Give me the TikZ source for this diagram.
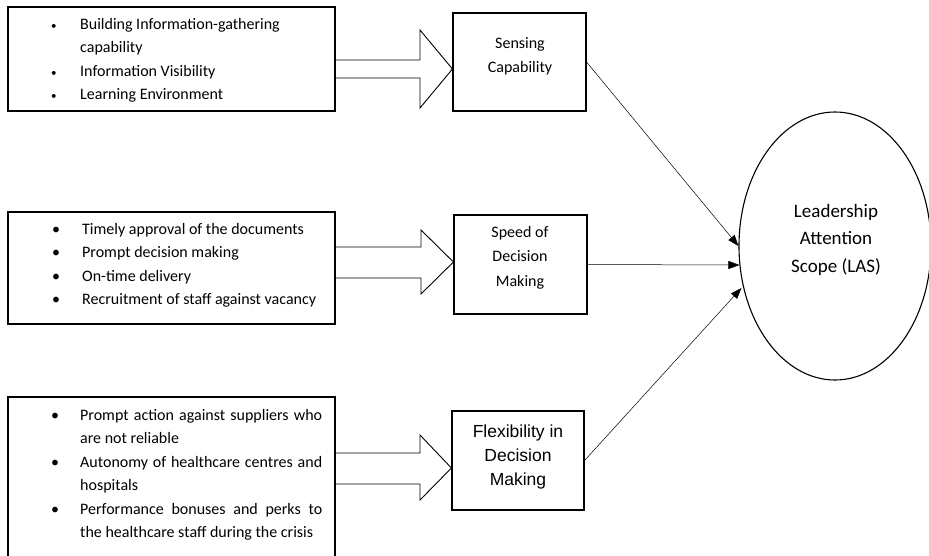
\documentclass[tikz,border=0pt]{standalone}
\usepackage{fontspec}
\setmainfont{Carlito}
\newfontfamily\arialf{Liberation Sans}
\usetikzlibrary{arrows.meta,shapes.geometric,calc}
\begin{document}
\begin{tikzpicture}[x=1pt,y=-1pt,
  box/.style={draw,line width=1.1pt,inner sep=0pt,rectangle},
  listtext/.style={inner sep=0pt,font=\fontsize{16}{23.5}\selectfont},
  ctext/.style={inner sep=0pt,anchor=base,font=\fontsize{16}{24.5}\selectfont},
  barrow/.style={draw,line width=0.9pt,line join=miter},
  conn/.style={draw,line width=0.5pt,-{Triangle[length=11pt,width=8pt]}}]
\useasboundingbox (0,0) rectangle (929,555);
\clip (0,0) rectangle (929,555);
\fill[white] (0,0) rectangle (929,555);

% left boxes
\node[box,minimum width=327pt,minimum height=104pt] (b1) at (171.5,59) {};
\node[box,minimum width=327pt,minimum height=112pt] (b2) at (171.5,268) {};
\node[box,minimum width=327pt,minimum height=180pt] (b3) at (171.5,487) {};

\node[listtext,anchor=base west] (t1) at (51,29) {\begin{tabular}[t]{@{}p{29pt}@{}l@{}}
{\fontsize{11}{11}\selectfont\textbullet} & Building Information-gathering\\
 & capability\\
{\fontsize{11}{11}\selectfont\textbullet} & Information Visibility\\
{\fontsize{11}{11}\selectfont\textbullet} & Learning Environment
\end{tabular}};

\node[listtext,anchor=base west] (t2) at (52,234) {\begin{tabular}[t]{@{}p{30pt}@{}l@{}}
\textbullet & Timely approval of the documents\\
\textbullet & Prompt decision making\\
\textbullet & On-time delivery\\
\textbullet & Recruitment of staff against vacancy
\end{tabular}};

\node[listtext,anchor=base west] (t3) at (51,420) {\begin{tabular}[t]{@{}p{29pt}@{}l@{}}
\textbullet & \makebox[242pt][s]{Prompt action against suppliers who}\\
 & are not reliable\\
\textbullet & \makebox[242pt][s]{Autonomy of healthcare centres and}\\
 & hospitals\\
\textbullet & \makebox[242pt][s]{Performance bonuses and perks to}\\
 & the healthcare staff during the crisis
\end{tabular}};

% middle boxes
\node[box,minimum width=133pt,minimum height=98pt] (sense) at (519.5,62) {};
\node[box,minimum width=133pt,minimum height=99pt] (speed) at (520.5,264.5) {};
\node[box,minimum width=132pt,minimum height=99pt] (flex) at (518,460.5) {};

\node[ctext] (senset) at (520,48) {\begin{tabular}[t]{@{}c@{}}Sensing\\Capability\end{tabular}};
\node[ctext] (speedt) at (520,237) {\begin{tabular}[t]{@{}c@{}}Speed of\\Decision\\Making\end{tabular}};
\node[inner sep=0pt,anchor=base,font=\arialf\fontsize{17.5}{24}\selectfont] (flext) at (518,437) {\begin{tabular}[t]{@{}c@{}}Flexibility in\\Decision\\Making\end{tabular}};

% ellipse
\node[draw,ellipse,line width=1.1pt,inner sep=0pt,minimum width=192pt,minimum height=268pt] (las) at (835,246) {};
\node[inner sep=0pt,anchor=base,font=\fontsize{19}{27.5}\selectfont] (last) at (836,217) {\begin{tabular}[t]{@{}c@{}}Leadership\\Attention\\Scope (LAS)\end{tabular}};

% block arrows
\draw[barrow] (b1.east |- 0,60) -- (420,60) -- (420,30) -- (sense.west |- 0,69) -- (420,108) -- (420,78) -- (b1.east |- 0,78);
\draw[barrow] (b2.east |- 0,247) -- (421,247) -- (421,230) -- (speed.west |- 0,262) -- (421,294) -- (421,278) -- (b2.east |- 0,278);
\draw[barrow] (b3.east |- 0,453) -- (420,453) -- (420,435) -- (flex.west |- 0,468) -- (420,500) -- (420,484) -- (b3.east |- 0,484);

% connectors
\draw[conn] (sense.east) -- (las.west);
\draw[conn] (speed.east) -- ($(las.west)+(1,19)$);
\draw[conn] (flex.east) -- ($(las.west)+(3,42)$);
\end{tikzpicture}
\end{document}
